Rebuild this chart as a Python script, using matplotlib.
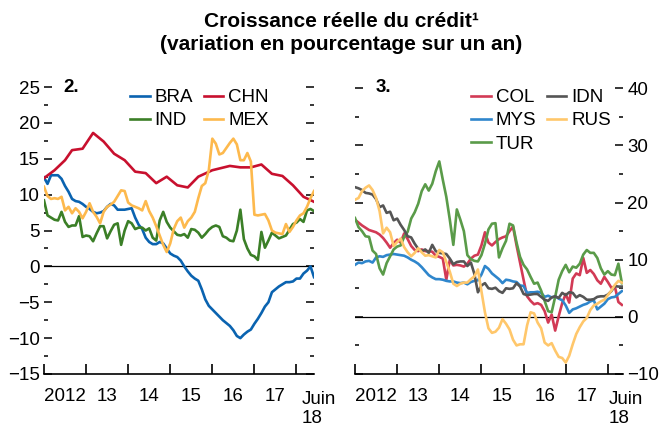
import numpy as np
import matplotlib
matplotlib.use("Agg")
import matplotlib.pyplot as plt
from matplotlib.ticker import MultipleLocator, FixedLocator, NullFormatter

plt.rcParams["font.family"] = ["Liberation Sans Narrow", "Liberation Sans", "DejaVu Sans"]

# monthly series, Jan 2012 onwards (values in %)
bra = [12.4, 11.5, 12.7, 12.7, 12.7, 12.2, 11.2, 10.4, 9.4, 9.1, 9.0, 8.7,
       8.3, 8.0, 7.6, 7.4, 7.5, 7.7, 8.3, 8.7, 8.5, 7.9, 7.9, 7.9,
       8.0, 8.1, 6.8, 5.8, 5.2, 4.0, 3.4, 3.1, 3.1, 3.4, 3.2, 2.5,
       1.8, 1.5, 1.3, 0.8, 0.0, -0.7, -1.3, -1.7, -2.0, -3.2, -4.6, -5.5,
       -6.0, -6.5, -7.0, -7.5, -7.9, -8.3, -8.9, -9.7, -10.0, -9.5, -9.1, -8.8,
       -8.0, -7.3, -6.5, -5.6, -5.0, -3.6, -3.2, -2.8, -2.5, -2.2, -2.2, -2.1,
       -1.7, -1.7, -1.0, -0.6, 0.0, -1.5]
ind = [9.2, 7.1, 6.8, 6.5, 6.4, 7.6, 6.2, 5.5, 5.7, 5.7, 7.0, 4.1,
       4.3, 4.2, 3.5, 4.6, 5.6, 5.6, 3.9, 4.9, 5.8, 6.0, 3.0, 5.0,
       6.3, 6.0, 5.2, 5.4, 5.4, 5.0, 5.3, 4.0, 3.6, 6.4, 7.6, 6.2,
       5.4, 4.9, 4.4, 4.3, 4.5, 4.0, 5.2, 5.1, 4.7, 4.0, 4.5, 5.1,
       5.5, 5.7, 5.5, 4.2, 4.0, 3.6, 3.5, 5.0, 7.9, 3.8, 2.5, 1.6,
       1.4, 0.9, 4.8, 2.6, 3.6, 4.7, 4.3, 3.9, 4.1, 4.3, 5.1, 5.9,
       6.1, 6.6, 6.2, 7.8, 8.0, 7.7]
mex = [11.1, 9.8, 9.4, 9.5, 9.4, 9.7, 7.8, 8.3, 7.4, 8.1, 7.6, 6.7,
       7.6, 8.8, 7.6, 6.9, 6.0, 7.6, 8.3, 8.6, 9.0, 9.8, 10.6, 10.5,
       8.9, 8.5, 8.3, 8.1, 7.8, 9.1, 7.7, 6.8, 5.6, 4.3, 3.0, 2.0,
       3.2, 5.2, 6.3, 6.8, 5.4, 6.3, 6.8, 7.6, 9.5, 11.2, 11.6, 13.4,
       17.8, 17.1, 15.6, 15.8, 16.5, 17.2, 17.8, 17.0, 14.8, 14.8, 15.8, 14.6,
       7.2, 7.1, 7.2, 7.3, 6.4, 5.0, 4.7, 4.6, 4.5, 5.9, 4.8, 5.5,
       6.4, 7.1, 7.4, 8.3, 9.5, 10.5]
# CHN read at turning points (month index, value)
chn_months = [0, 3, 6, 8, 11, 14, 17, 20, 23, 26, 29, 32, 35, 38, 41, 44,
              48, 53, 56, 59, 62, 65, 68, 71, 74, 77]
chn_values = [12.3, 13.4, 14.8, 16.2, 16.4, 18.6, 17.4, 15.7, 14.8, 13.2, 13.0, 11.6,
              12.5, 11.3, 11.0, 12.5, 13.4, 14.0, 13.8, 13.8, 14.2, 12.9, 12.6, 11.3,
              9.7, 9.0]

col = [17.0, 16.5, 16.0, 15.6, 15.2, 15.0, 14.8, 14.4, 13.8, 13.0, 12.1, 12.9,
       13.5, 13.0, 14.6, 13.6, 12.4, 11.7, 11.5, 11.8, 11.5, 11.5, 11.4, 10.7,
       10.5, 10.2, 6.5, 10.0, 9.0, 9.1, 9.0, 8.8, 9.3, 10.2, 10.7, 10.9,
       12.5, 14.8, 13.0, 12.5, 13.1, 13.6, 13.9, 14.1, 15.0, 15.8, 12.5, 9.5,
       6.5, 3.6, 2.8, 2.2, 2.4, 2.1, 1.0, -1.0, 0.4, -2.4, 0.1, 2.4,
       4.0, 2.5, 6.7, 7.6, 7.3, 10.3, 7.7, 8.2, 7.5, 6.4, 5.8, 7.0,
       6.1, 5.1, 5.3, 2.6, 2.1]
idn = [22.7, 22.5, 22.2, 21.7, 21.6, 21.4, 20.6, 19.2, 19.5, 18.2, 18.4, 16.9,
       17.2, 16.1, 15.2, 14.1, 13.9, 12.8, 11.9, 11.5, 11.8, 11.2, 12.6, 11.5,
       11.2, 11.1, 11.0, 10.2, 9.2, 9.6, 9.7, 9.7, 8.9, 9.5, 7.5, 4.3,
       5.5, 5.9, 5.0, 4.9, 5.1, 4.5, 4.2, 5.0, 4.9, 5.0, 5.9, 5.3,
       4.0, 3.8, 3.9, 4.0, 4.0, 3.5, 3.0, 2.8, 3.4, 3.6, 3.3, 4.2,
       3.8, 4.3, 4.2, 3.4, 3.8, 3.5, 3.0, 3.0, 3.1, 3.5, 3.6, 3.6,
       3.9, 4.5, 5.4, 5.3, 5.3]
mys = [9.1, 9.5, 9.4, 9.7, 9.8, 9.5, 10.4, 10.6, 10.5, 10.8, 10.9, 11.0,
       10.9, 10.8, 10.7, 10.4, 10.0, 9.7, 9.3, 8.7, 8.0, 7.3, 6.9, 6.6,
       6.6, 6.5, 6.3, 6.2, 6.2, 6.0, 5.9, 6.0, 5.7, 6.1, 6.3, 6.4,
       7.4, 8.9, 8.4, 7.6, 7.1, 6.6, 5.9, 6.5, 6.4, 6.2, 6.1, 5.5,
       5.4, 4.2, 4.3, 4.3, 4.4, 4.2, 3.5, 3.7, 3.4, 3.6, 3.2, 2.9,
       2.0, 0.7, 1.3, 1.5, 1.8, 2.1, 2.3, 2.7, 2.9, 1.3, 1.8, 2.3,
       3.1, 3.4, 3.5, 4.0, 4.5]
rus = [20.5, 20.8, 22.0, 22.6, 23.0, 22.2, 20.8, 18.5, 14.6, 15.6, 14.8, 12.4,
       13.1, 13.7, 12.2, 11.3, 10.6, 11.2, 12.0, 11.3, 10.7, 10.8, 10.6, 10.4,
       11.7, 11.3, 9.6, 7.9, 5.8, 5.4, 5.8, 6.0, 6.0, 6.6, 7.1, 8.3,
       4.5, 0.8, -2.0, -2.8, -2.6, -1.9, -0.4, -1.2, -2.2, -4.0, -5.0, -4.8,
       -4.8, -1.5, 0.8, 0.6, -1.0, -2.0, -4.5, -5.0, -4.6, -5.9, -7.0, -7.2,
       -8.0, -6.8, -4.8, -3.0, -1.8, -0.8, -0.2, 1.2, 2.0, 2.3, 2.7, 3.0,
       3.8, 4.6, 5.6, 6.3, 6.0]
tur = [17.3, 15.7, 15.0, 14.1, 14.0, 11.6, 11.0, 8.5, 7.4, 9.4, 10.6, 11.8,
       12.3, 12.5, 14.0, 14.9, 17.2, 18.3, 19.8, 22.0, 23.2, 22.1, 23.3, 25.5,
       27.2, 24.0, 21.0, 17.0, 12.6, 18.8, 17.0, 15.0, 10.8, 10.1, 9.8, 9.7,
       10.8, 12.8, 15.3, 16.3, 16.4, 10.4, 12.0, 13.3, 16.3, 16.0, 13.0, 10.5,
       9.1, 8.3, 7.0, 5.8, 6.0, 4.6, 2.8, 1.0, 0.8, 3.5, 6.5, 8.0,
       9.1, 7.8, 8.8, 8.6, 9.3, 10.9, 11.7, 11.2, 11.2, 10.3, 8.5, 7.4,
       8.0, 7.4, 7.3, 9.3, 5.9]

year_labels = ["2012", "13", "14", "15", "16", "17"]
end_label = "Juin\n18"

FS = 13.5
LW = 1.9

fig = plt.figure(figsize=(6.61, 4.28), dpi=100)
W, H = 661.0, 428.0


def px_axes(x0, y0, x1, y1):
    return fig.add_axes([x0 / W, 1 - y1 / H, (x1 - x0) / W, (y1 - y0) / H])


def style(ax, xmax, label_side, end_x):
    for s in ["top", "left", "right"]:
        ax.spines[s].set_visible(False)
    ax.spines["bottom"].set_linewidth(1.2)
    ax.set_xlim(0, xmax)
    ax.xaxis.set_major_locator(FixedLocator(np.arange(0, 73, 12)))
    ax.xaxis.set_major_formatter(NullFormatter())
    ax.xaxis.set_minor_locator(FixedLocator(np.arange(6, 67, 12)))
    ax.set_xticklabels(year_labels, minor=True)
    ax.tick_params(axis="x", which="major", direction="in", length=7, width=1.2)
    ax.tick_params(axis="x", which="minor", length=0, pad=10, labelsize=FS)
    ax.text(end_x, -0.058, end_label, transform=ax.transAxes, ha="left", va="top",
            fontsize=FS, linespacing=1.15)
    ax.tick_params(axis="y", which="both", direction="in", left=True, right=True,
                   labelleft=(label_side == "left"), labelright=(label_side == "right"),
                   labelsize=FS, pad=3)
    ax.tick_params(axis="y", which="major", length=6, width=1.1)
    ax.tick_params(axis="y", which="minor", length=3, width=1.1)
    ax.axhline(0, color="black", lw=0.9, zorder=1)


def pixel_text(x, y, s):
    fig.text(x / W, 1 - y / H, s, fontsize=FS, fontweight="bold", va="center")


# panel 2
ax1 = px_axes(44, 87, 314, 374)
m = np.arange(len(bra))
ax1.plot(m, bra, color="#0a63b0", lw=LW, label="BRA")
ax1.plot(m, ind, color="#3b7f27", lw=LW, label="IND")
ax1.plot(chn_months, chn_values, color="#c8102e", lw=LW, label="CHN")
ax1.plot(m, mex, color="#fdb94d", lw=LW, label="MEX")
ax1.set_ylim(-15, 25)
ax1.yaxis.set_major_locator(MultipleLocator(5))
ax1.yaxis.set_minor_locator(MultipleLocator(2.5))
style(ax1, 77, "left", 0.955)
pixel_text(63, 88, "2.")
h, l = ax1.get_legend_handles_labels()
ax1.legend(h, l, ncol=2, loc="upper left", bbox_to_anchor=(130 / W, 1 - 89 / H),
           bbox_transform=fig.transFigure, frameon=False, fontsize=FS,
           handlelength=1.05, handletextpad=0.27, labelspacing=0.33,
           columnspacing=0.55, borderpad=0, borderaxespad=0)

# panel 3
ax2 = px_axes(355, 88.3, 623.3, 374)
m2 = np.arange(len(col))
ax2.plot(m2, col, color="#d23a55", lw=LW, label="COL")
ax2.plot(m2, mys, color="#2f86cc", lw=LW, label="MYS")
ax2.plot(m2, tur, color="#5a9b49", lw=LW, label="TUR")
ax2.plot(m2, idn, color="#555555", lw=LW, label="IDN")
ax2.plot(m2, rus, color="#ffc76b", lw=LW, label="RUS")
ax2.set_ylim(-10, 40)
ax2.yaxis.set_major_locator(MultipleLocator(10))
ax2.yaxis.set_minor_locator(MultipleLocator(5))
style(ax2, 76.4, "right", 0.944)
pixel_text(376, 88, "3.")
h, l = ax2.get_legend_handles_labels()
ax2.legend(h, l, ncol=2, loc="upper left", bbox_to_anchor=(471 / W, 1 - 89 / H),
           bbox_transform=fig.transFigure, frameon=False, fontsize=FS,
           handlelength=1.05, handletextpad=0.27, labelspacing=0.33,
           columnspacing=0.55, borderpad=0, borderaxespad=0)

fig.text(0.516, 1 - 27 / H, "Croissance réelle du crédit¹", ha="center", va="baseline",
         fontsize=15, fontweight="bold")
fig.text(0.516, 1 - 50 / H, "(variation en pourcentage sur un an)", ha="center",
         va="baseline", fontsize=15, fontweight="bold")

fig.savefig("out.png", dpi=100)
